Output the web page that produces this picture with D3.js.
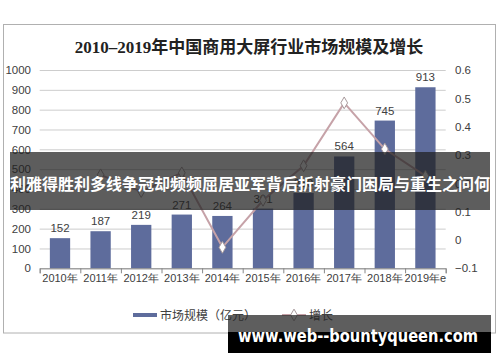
<!DOCTYPE html>
<html>
<head>
<meta charset="utf-8">
<script src="https://cdn.jsdelivr.net/npm/d3@7"></script>
<style>
  body { margin: 0; background: #fff; }
  svg { display: block; font-family: "Liberation Sans", "Noto Sans CJK SC", sans-serif; }
</style>
</head>
<body>
<div id="chart"></div>
<script>
// 年份与数据
const years = ["2010年", "2011年", "2012年", "2013年", "2014年", "2015年", "2016年", "2017年", "2018年", "2019年e"]
const marketSize = [152, 187, 219, 271, 264, 301, 380, 564, 745, 913]
const growth = [null, 0.23, 0.171, 0.237, -0.026, 0.14, 0.262, 0.484, 0.321, 0.226]
const leftTicks = [0, 100, 200, 300, 400, 500, 600, 700, 800, 900, 1000]
const rightTicks = [-0.1, 0, 0.1, 0.2, 0.3, 0.4, 0.5, 0.6]

const width = 500, height = 362
const barColor = "#5e6c9c"
const lineColor = "#c6a2a8"
const textColor = "#404040"

const svg = d3.select("#chart").append("svg")
    .attr("width", width).attr("height", height)

// 外框
svg.append("rect")
    .attr("x", 3.5).attr("y", 24.5).attr("width", 492).attr("height", 308.5)
    .attr("fill", "#fff").attr("stroke", "#b0b0b0")

// 标题
svg.append("text")
    .attr("x", 249).attr("y", 53)
    .attr("text-anchor", "middle")
    .style("font-family", '"Liberation Serif", "Noto Sans CJK SC", serif')
    .style("font-weight", "bold").style("font-size", "17px")
    .attr("fill", "#222")
    .text("2010–2019年中国商用大屏行业市场规模及增长")

const x = d3.scaleBand().domain(years).range([39.7, 445.7]).paddingInner(0.5).paddingOuter(0.25)
const y = d3.scaleLinear().domain([0, 1000]).range([268.3, 70])
const yR = d3.scaleLinear().domain([-0.1, 0.6]).range([268.3, 70])

// 网格线
svg.append("g")
    .attr("transform", "translate(39.7,0)")
    .call(d3.axisLeft(y).tickValues(leftTicks).tickSize(-406).tickFormat(""))
    .call(g => g.select(".domain").remove())
    .call(g => g.selectAll("line").attr("stroke", "#cdcdcd"))

// 左轴
svg.append("g")
    .attr("transform", "translate(31,0)")
    .call(d3.axisLeft(y).tickValues(leftTicks).tickSize(0).tickPadding(0).tickFormat(d3.format("d")))
    .call(g => g.select(".domain").remove())
    .call(g => g.selectAll("text").attr("fill", textColor).style("font-size", "11.5px"))

// 右轴
svg.append("g")
    .attr("transform", "translate(455,0)")
    .call(d3.axisRight(yR).tickValues(rightTicks).tickSize(0).tickPadding(0).tickFormat(d3.format("")))
    .call(g => g.select(".domain").remove())
    .call(g => g.selectAll("text").attr("fill", textColor).style("font-size", "11.5px"))

// 柱子
svg.append("g")
    .selectAll("rect")
    .data(marketSize)
    .join("rect")
    .attr("x", (d, i) => x(years[i]))
    .attr("width", x.bandwidth())
    .attr("y", d => y(d))
    .attr("height", d => y(0) - y(d))
    .attr("fill", barColor)

// 数据标签
svg.append("g")
    .selectAll("text")
    .data(marketSize)
    .join("text")
    .attr("x", (d, i) => x(years[i]) + x.bandwidth() / 2)
    .attr("y", d => y(d) - 6)
    .attr("text-anchor", "middle")
    .attr("fill", textColor)
    .style("font-size", "11.5px")
    .text(d => d)

// 底部轴线与刻度
const xEdge = d3.scaleLinear().domain([0, 10]).range([39.7, 445.7])
svg.append("g")
    .attr("transform", "translate(0,268.3)")
    .call(d3.axisBottom(xEdge).ticks(10).tickSize(5).tickFormat(""))
    .call(g => g.selectAll("line,path").attr("stroke", "#888"))

svg.append("g")
    .attr("transform", "translate(0,273)")
    .call(d3.axisBottom(x).tickSize(0).tickPadding(1))
    .call(g => g.select(".domain").remove())
    .call(g => g.selectAll("text").attr("fill", textColor).style("font-size", "11px"))

// 增长折线
const pts = growth.map((g, i) => ({g, i})).filter(d => d.g !== null)
const cx = d => x(years[d.i]) + x.bandwidth() / 2
svg.append("path")
    .datum(pts)
    .attr("fill", "none")
    .attr("stroke", lineColor)
    .attr("stroke-width", 2)
    .attr("d", d3.line().x(cx).y(d => yR(d.g)))

const diamond = d3.symbol().type(d3.symbolDiamond).size(40)
svg.append("g")
    .selectAll("path")
    .data(pts)
    .join("path")
    .attr("d", diamond)
    .attr("transform", d => `translate(${cx(d)},${yR(d.g)})`)
    .attr("fill", "#fff")
    .attr("stroke", "#a89a9c")

// 图例
const legend = svg.append("g").attr("transform", "translate(0,315)")
legend.append("rect").attr("x", 133).attr("y", -2).attr("width", 24).attr("height", 4).attr("fill", barColor)
legend.append("text").attr("x", 160).attr("y", 4.5).attr("fill", textColor).style("font-size", "12px").text("市场规模（亿元）")
legend.append("line").attr("x1", 282).attr("x2", 306).attr("y1", 0).attr("y2", 0).attr("stroke", lineColor).attr("stroke-width", 2)
legend.append("path").attr("d", diamond).attr("transform", "translate(294,0)").attr("fill", "#fff").attr("stroke", "#a89a9c")
legend.append("text").attr("x", 309).attr("y", 4.5).attr("fill", textColor).style("font-size", "12px").text("增长")

// 横幅
svg.append("rect")
    .attr("x", 10).attr("y", 152).attr("width", 480).attr("height", 58)
    .attr("fill", "rgba(30,30,30,0.72)")
svg.append("text")
    .attr("x", 250).attr("y", 190)
    .attr("text-anchor", "middle")
    .attr("fill", "#fff")
    .style("font-family", '"Noto Sans CJK SC", sans-serif')
    .style("font-weight", "bold").style("font-size", "16px")
    .text("利雅得胜利多线争冠却频频屈居亚军背后折射豪门困局与重生之问何")

// 水印
svg.append("rect").attr("x", 228).attr("y", 315).attr("width", 263).attr("height", 17).attr("fill", "rgba(40,40,40,0.75)")
svg.append("rect").attr("x", 228).attr("y", 332).attr("width", 263).attr("height", 21).attr("fill", "#000")
svg.append("text")
    .attr("x", 358).attr("y", 342)
    .attr("text-anchor", "middle")
    .attr("fill", "#fff")
    .style("font-family", '"DejaVu Sans", sans-serif')
    .style("font-weight", "bold").style("font-size", "17px")
    .attr("textLength", 240).attr("lengthAdjust", "spacingAndGlyphs")
    .text("www.web--bountyqueen.com")
</script>
</body>
</html>
